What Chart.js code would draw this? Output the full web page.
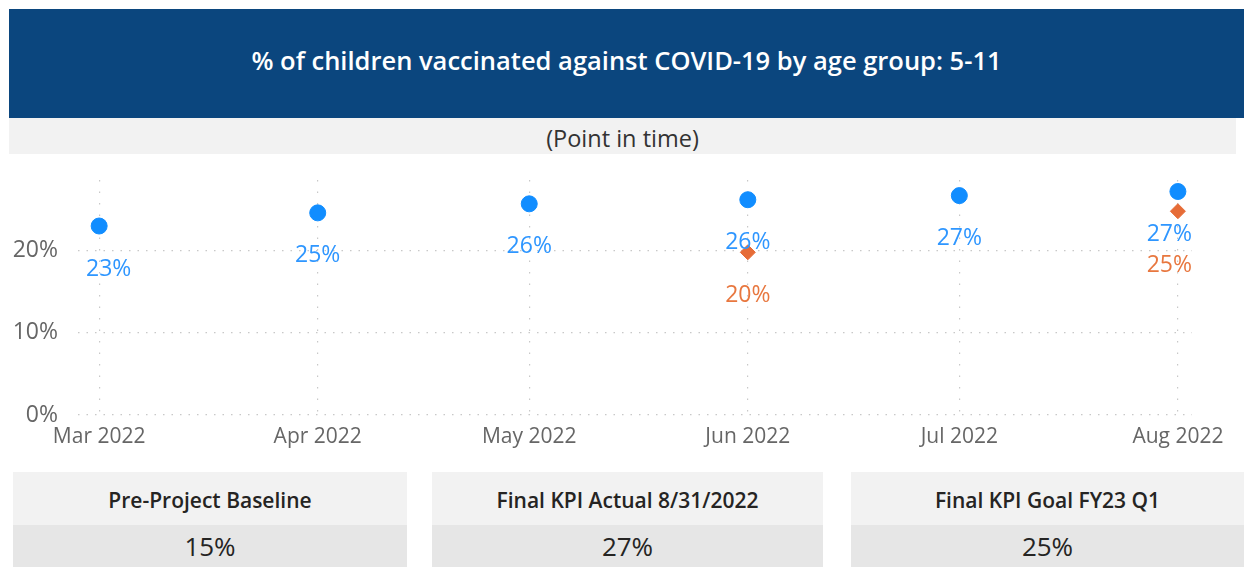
<!DOCTYPE html>
<html>
<head>
<meta charset="utf-8">
<script src="https://cdn.jsdelivr.net/npm/chart.js@4"></script>
<style>
    body {
        margin: 0;
        width: 1244px;
        height: 567px;
        background: #fff;
        font-family: "Open Sans", sans-serif;
        overflow: hidden;
        position: relative;
    }
    .header {
        position: absolute;
        left: 9px; top: 9px;
        width: 1235px; height: 109px;
        background: #0B467E;
        color: #fff;
        font-size: 25.5px;
        font-weight: 600;
        display: flex;
        align-items: center;
        justify-content: center;
        box-sizing: border-box;
        padding-bottom: 7px;
    }
    .sub {
        position: absolute;
        left: 9px; top: 118px;
        width: 1227px; height: 36px;
        background: #F2F2F2;
        color: #333;
        font-size: 23.5px;
        text-align: center;
        line-height: 40px;
    }
    #wrap {
        position: absolute;
        left: 0; top: 154px;
        width: 1244px; height: 306px;
    }
    .card {
        position: absolute;
        top: 472px;
        height: 95px;
        text-align: center;
    }
    .card .lbl {
        height: 53px;
        line-height: 56px;
        background: #F2F2F2;
        color: #252423;
        font-size: 21px;
        font-weight: 600;
    }
    .card .val {
        height: 42px;
        line-height: 42px;
        background: #E6E6E6;
        color: #252423;
        font-size: 26px;
    }
</style>
</head>
<body>
<div class="header">% of children vaccinated against COVID-19 by age group: 5-11</div>
<div class="sub">(Point in time)</div>
<div id="wrap"><canvas id="vaxChart"></canvas></div>

<div class="card" style="left:13px; width:394px;">
    <div class="lbl">Pre-Project Baseline</div>
    <div class="val">15%</div>
</div>
<div class="card" style="left:432px; width:391px;">
    <div class="lbl">Final KPI Actual 8/31/2022</div>
    <div class="val">27%</div>
</div>
<div class="card" style="left:851px; width:393px;">
    <div class="lbl">Final KPI Goal  FY23 Q1</div>
    <div class="val">25%</div>
</div>

<script>
// ===============================
//  DATA
// ===============================
const MONTH_LABELS = ["Mar 2022", "Apr 2022", "May 2022", "Jun 2022", "Jul 2022", "Aug 2022"];
const MONTH_DAYS = [0, 31, 61, 92, 122, 153];          // days since 1 Mar 2022
const ACTUAL = [23.0, 24.6, 25.7, 26.2, 26.7, 27.2];   // % vaccinated
const GOAL = [null, null, null, 19.8, null, 24.8];     // KPI goal points
const Y_TICKS = [0, 10, 20];

const BLUE = "#118DFF";
const ORANGE = "#E66C37";

// ===============================
//  DATA LABEL PLUGIN
// ===============================
const pointLabels = {
    id: "pointLabels",
    afterDatasetsDraw(chart) {
        const ctx = chart.ctx;
        const area = chart.chartArea;
        const placed = [];

        ctx.save();
        ctx.font = "23px 'Open Sans'";
        ctx.textAlign = "center";
        ctx.textBaseline = "middle";

        chart.data.datasets.forEach((ds, di) => {
            chart.getDatasetMeta(di).data.forEach((pt, i) => {
                const text = Math.round(ds.data[i].y) + "%";
                const w = ctx.measureText(text).width;
                const x = Math.min(Math.max(pt.x, area.left + w / 2 + 8), area.right - w / 2);
                let y = pt.y + 43;

                placed.forEach(p => {
                    if (Math.abs(p.x - x) < w && y - p.y < 31) y = p.y + 31;
                });
                placed.push({ x, y });

                ctx.fillStyle = ds.labelColor;
                ctx.fillText(text, x, y);
            });
        });
        ctx.restore();
    }
};

// ===============================
//  BUILD CHART
// ===============================
function toPoints(values) {
    return MONTH_DAYS
        .map((d, i) => ({ x: d, y: values[i] }))
        .filter(p => p.y !== null);
}

const gridStyle = {
    color: "#C8C8C8",
    lineWidth: 1.2,
    drawTicks: false
};

new Chart(document.getElementById("vaxChart"), {
    type: "scatter",
    data: {
        datasets: [
            {
                label: "Actual",
                data: toPoints(ACTUAL),
                backgroundColor: BLUE,
                borderColor: BLUE,
                pointRadius: 8,
                pointStyle: "circle",
                labelColor: "#2E96FF"
            },
            {
                label: "Goal",
                data: toPoints(GOAL),
                backgroundColor: ORANGE,
                borderColor: ORANGE,
                pointRadius: 7.5,
                pointStyle: "rectRot",
                labelColor: "#E8773F"
            }
        ]
    },
    options: {
        responsive: true,
        maintainAspectRatio: false,
        animation: false,
        layout: { padding: { top: 26, right: 52, left: 0, bottom: 0 } },
        plugins: {
            legend: { display: false },
            tooltip: { enabled: false }
        },
        scales: {
            x: {
                type: "linear",
                min: -3,
                max: 155,
                afterBuildTicks: s => { s.ticks = MONTH_DAYS.map(v => ({ value: v })); },
                afterFit: s => { s.height = 45; },
                ticks: {
                    padding: 9,
                    color: "#666",
                    font: { family: "Open Sans", size: 21 },
                    maxRotation: 0,
                    autoSkip: false,
                    callback: v => MONTH_LABELS[MONTH_DAYS.indexOf(v)]
                },
                grid: { ...gridStyle, borderDash: [1.5, 10] },
                border: { display: false, dash: [1.5, 10] }
            },
            y: {
                min: 0,
                max: 28.6,
                afterBuildTicks: s => { s.ticks = Y_TICKS.map(v => ({ value: v })); },
                afterFit: s => {
                    s.width = 78;
                    s.paddingTop = 0;
                    s.paddingBottom = 0;
                },
                ticks: {
                    padding: 20,
                    color: "#666",
                    font: { family: "Open Sans", size: 23 },
                    callback: v => v + "%"
                },
                grid: gridStyle,
                border: { display: false, dash: [1.5, 7] }
            }
        }
    },
    plugins: [pointLabels]
});
</script>
</body>
</html>
